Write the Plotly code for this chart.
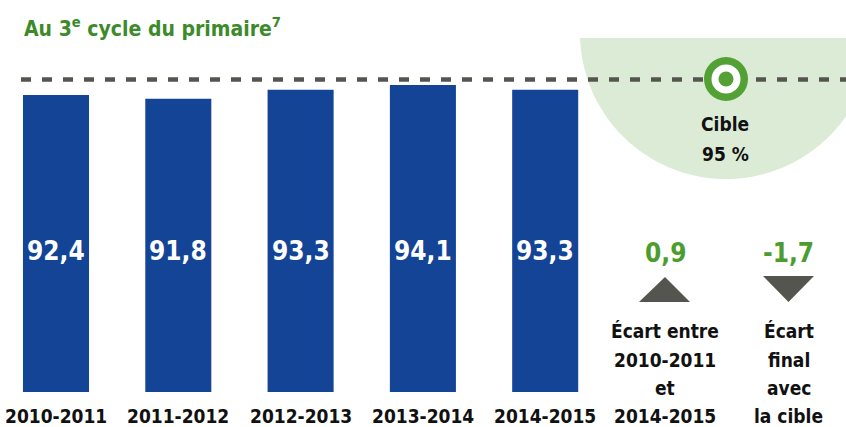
import math
import plotly.graph_objects as go

# ---- data ----
years = ["2010-2011", "2011-2012", "2012-2013", "2013-2014", "2014-2015"]
rates = [92.4, 91.8, 93.3, 94.1, 93.3]
target = 95
title_text = "Au 3<sup>e</sup> cycle du primaire<sup>7</sup>"
gap_labels = [["Écart entre", "2010-2011", "et", "2014-2015"],
              ["Écart", "final", "avec", "la cible"]]
target_lines = ["Cible", "95 %"]

gap_values = [round(rates[-1] - rates[0], 1), round(rates[-1] - target, 1)]


def fr(v):
    return f"{v:.1f}".replace(".", ",")


W, H = 846, 427
PH = 392                # plot-area height in px


def px(x):              # pixel -> paper
    return x / W


def py(y):
    return 1 - y / PH


FONT = "DejaVu Sans Condensed, DejaVu Sans, sans-serif"
BLUE = "#144496"
GREEN_TXT = "#4c9c2e"
TITLE_GREEN = "#3d8a2b"
DARK = "#55554f"
LIGHT_GREEN = "#dcebd6"
TARGET_GREEN = "#53a035"
BLACK = "#111111"

fig = go.Figure()
fig.add_trace(go.Bar(
    x=list(range(len(years))), y=rates, width=0.54,
    marker=dict(color=BLUE, line=dict(width=0)),
    hoverinfo="skip",
))

# scales
k = 6.0                                  # px per unit
y95 = 79.5
ytop = target + y95 / k
ybot = target - (PH - y95) / k
step = 122.3
c0 = 56
x0r = -c0 / step
x1r = (W - c0) / step

shapes = []
# light green circle segment (flat top)
cx, cy, r, ycut = 726, 33, 146, 38
t0 = math.asin((ycut - cy) / r)
pts = []
n = 90
for i in range(n + 1):
    t = t0 + (math.pi - 2 * t0) * i / n
    pts.append((cx + r * math.cos(t), cy + r * math.sin(t)))


def poly(points):
    return "M " + " L ".join(f"{px(a):.5f},{py(b):.5f}" for a, b in points) + " Z"


shapes.append(dict(type="path", xref="paper", yref="paper", path=poly(pts),
                   fillcolor=LIGHT_GREEN, line=dict(width=0), layer="below"))
# dashed target line
shapes.append(dict(type="line", xref="paper", yref="y", x0=px(21), x1=1.0,
                   y0=target, y1=target,
                   line=dict(color=DARK, width=4.5, dash="10px,11px"), layer="above"))
# target icon
tx, ty = 726, 79
for rad, col in [(22, TARGET_GREEN), (14.5, "white"), (7.5, TARGET_GREEN)]:
    shapes.append(dict(type="circle", xref="paper", yref="paper",
                       x0=px(tx - rad), x1=px(tx + rad), y0=py(ty + rad), y1=py(ty - rad),
                       fillcolor=col, line=dict(width=0), layer="above"))
# triangles
shapes.append(dict(type="path", xref="paper", yref="paper",
                   path=poly([(639, 302), (690, 302), (665, 277)]),
                   fillcolor=DARK, line=dict(width=0), layer="above"))
shapes.append(dict(type="path", xref="paper", yref="paper",
                   path=poly([(763, 276), (814, 276), (788.5, 302)]),
                   fillcolor=DARK, line=dict(width=0), layer="above"))

ann = []
FS = 19


def base_y(baseline, fs):
    # bottom of annotation box for a given text baseline (px)
    return py(baseline + 1 + 0.236 * fs)


ann.append(dict(text=title_text, x=px(22), y=base_y(37.3, 21), xref="paper", yref="paper",
                xanchor="left", yanchor="bottom", showarrow=False,
                font=dict(family=FONT, size=21, color=TITLE_GREEN, weight="bold")))
for i, (yr, v) in enumerate(zip(years, rates)):
    ann.append(dict(text=fr(v), x=i, y=py(251), xref="x", yref="paper",
                    xanchor="center", yanchor="middle", showarrow=False,
                    font=dict(family=FONT, size=26, color="white", weight="bold")))
    ann.append(dict(text=yr, x=i, y=base_y(423.5, FS), xref="x", yref="paper",
                    xanchor="center", yanchor="bottom", showarrow=False,
                    font=dict(family=FONT, size=FS, color=BLACK, weight="bold")))
gap_x = [665, 788.5]
baselines = [338.3, 367.5, 395.5, 423.5]
for gx, gv, lines in zip(gap_x, gap_values, gap_labels):
    ann.append(dict(text=fr(gv), x=px(gx), y=py(253.5), xref="paper", yref="paper",
                    xanchor="center", yanchor="middle", showarrow=False,
                    font=dict(family=FONT, size=26, color=GREEN_TXT, weight="bold")))
    for line, bl in zip(lines, baselines):
        ann.append(dict(text=line, x=px(gx), y=base_y(bl, FS), xref="paper", yref="paper",
                        xanchor="center", yanchor="bottom", showarrow=False,
                        font=dict(family=FONT, size=FS, color=BLACK, weight="bold")))
for line, bl in zip(target_lines, [131.7, 161.7]):
    ann.append(dict(text=line, x=px(725), y=base_y(bl, FS), xref="paper", yref="paper",
                    xanchor="center", yanchor="bottom", showarrow=False,
                    font=dict(family=FONT, size=FS, color=BLACK, weight="bold")))

fig.update_layout(
    width=W, height=H,
    margin=dict(l=0, r=0, t=0, b=H - PH, pad=0),
    paper_bgcolor="white", plot_bgcolor="rgba(0,0,0,0)",
    showlegend=False,
    xaxis=dict(range=[x0r, x1r], visible=False, fixedrange=True),
    yaxis=dict(range=[ybot, ytop], visible=False, fixedrange=True),
    shapes=shapes, annotations=ann,
)
fig.write_html(
    "out.html",
    config={"displayModeBar": False, "staticPlot": True},
    post_script="document.body.style.margin='0';document.body.style.overflow='hidden';",
)
